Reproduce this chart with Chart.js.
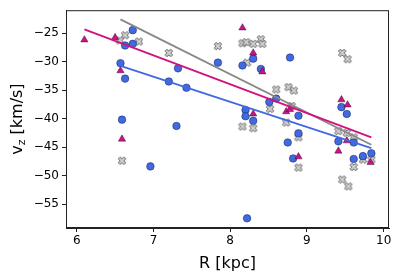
<!DOCTYPE html>
<html>
<head>
<meta charset="utf-8">
<script src="https://cdn.jsdelivr.net/npm/chart.js@4"></script>
<style>
  body { margin: 0; background: #fff; }
  canvas { display: block; }
</style>
</head>
<body>
<canvas id="vzChart" width="399" height="276"></canvas>
<script>
// Values
const blueR = [6.73, 6.63, 6.73, 6.57, 6.63, 7.20, 7.32, 7.43, 6.59, 7.30, 6.96,
               7.84, 8.16, 8.30, 8.40, 8.51, 8.60, 8.20, 8.20, 8.30, 8.78, 8.89,
               9.45, 9.52, 8.89, 8.75, 8.82, 9.41, 9.61, 9.61, 9.73, 9.84, 8.22];
const blueV = [-24.5, -27.2, -26.9, -30.3, -33.0, -33.5, -31.2, -34.6, -40.2, -41.3, -48.4,
               -30.2, -30.7, -29.5, -31.3, -37.1, -36.5, -38.5, -39.6, -40.4, -29.3, -39.5,
               -38.0, -39.2, -42.6, -44.2, -47.0, -44.0, -44.2, -47.1, -46.6, -46.1, -57.5];

const magR = [6.10, 6.50, 6.57, 6.59, 8.16, 8.30, 8.42, 8.30, 8.73, 8.78,
              9.45, 9.53, 9.52, 9.41, 8.89, 9.83];
const magV = [-26.2, -25.8, -31.6, -43.6, -24.1, -28.5, -31.8, -39.2, -38.8, -38.4,
              -36.7, -37.6, -43.9, -45.7, -46.7, -47.7];

const grayR = [6.63, 6.56, 6.81, 7.20, 7.84, 8.16, 8.21, 8.30, 8.40, 8.42, 8.22,
               8.60, 8.52, 8.76, 8.83, 9.46, 9.53, 8.80, 8.16, 8.30, 8.73, 8.89,
               8.89, 9.41, 9.52, 9.61, 9.61, 9.73, 9.84, 9.46, 9.54, 6.59];
const grayV = [-25.4, -26.3, -26.5, -28.5, -27.3, -26.8, -26.6, -26.9, -26.1, -26.9, -30.2,
               -34.9, -38.3, -34.5, -35.1, -28.5, -29.6, -37.8, -41.4, -41.7, -40.7, -43.3,
               -48.6, -42.2, -42.5, -43.3, -48.5, -47.2, -47.2, -50.7, -51.9, -47.4];

// linear fits, end points
const blueFitR = [6.57, 9.84];
const blueFitV = [-30.75, -45.2];
const magFitR = [6.10, 9.84];
const magFitV = [-24.35, -43.3];
const grayFitR = [6.57, 9.84];
const grayFitV = [-22.6, -44.6];

const xTicks = [6, 7, 8, 9, 10];
const yTicks = [-25, -30, -35, -40, -45, -50, -55];

const toPoints = (xs, ys) => xs.map((x, i) => ({ x: x, y: ys[i] }));

// filled "X" marker like matplotlib's 'X'
function makeXMarker() {
    const size = 10;
    const c = document.createElement('canvas');
    c.width = size;
    c.height = size;
    const g = c.getContext('2d');
    const a = 1.3, L = 4.0;
    const pts = [[a, a], [a, L], [-a, L], [-a, a], [-L, a], [-L, -a],
                 [-a, -a], [-a, -L], [a, -L], [a, -a], [L, -a], [L, a]];
    const cos = Math.SQRT1_2, sin = Math.SQRT1_2;
    g.beginPath();
    pts.forEach((p, i) => {
        const x = size / 2 + p[0] * cos - p[1] * sin;
        const y = size / 2 + p[0] * sin + p[1] * cos;
        if (i === 0) g.moveTo(x, y); else g.lineTo(x, y);
    });
    g.closePath();
    g.fillStyle = '#d0d0d0';
    g.fill();
    g.lineWidth = 0.8;
    g.strokeStyle = '#444';
    g.stroke();
    return c;
}

const minus = v => String(v).replace('-', '\u2212');

// frame + axis titles (v with subscript z)
const framePlugin = {
    id: 'frame',
    afterDraw(chart) {
        const { ctx, chartArea: a } = chart;
        ctx.save();
        ctx.strokeStyle = '#222';
        ctx.lineWidth = 1;
        ctx.strokeRect(a.left + 0.5, a.top + 0.5, a.right - a.left - 1, a.bottom - a.top - 1);

        ctx.fillStyle = '#000';
        ctx.textBaseline = 'alphabetic';
        ctx.font = '16px "DejaVu Sans"';
        ctx.textAlign = 'center';
        ctx.fillText('R [kpc]', (a.left + a.right) / 2, 268);

        // y title
        const big = '16px "DejaVu Sans"', small = '11px "DejaVu Sans"';
        ctx.font = big;
        const wv = ctx.measureText('v').width;
        const wr = ctx.measureText(' [km/s]').width;
        ctx.font = small;
        const wz = ctx.measureText('z').width;
        const total = wv + wz + wr;
        ctx.translate(22, (a.top + a.bottom) / 2);
        ctx.rotate(-Math.PI / 2);
        ctx.textAlign = 'left';
        let x = -total / 2;
        ctx.font = big;
        ctx.fillText('v', x, 0);
        x += wv;
        ctx.font = small;
        ctx.fillText('z', x, 3);
        x += wz;
        ctx.font = big;
        ctx.fillText(' [km/s]', x, 0);
        ctx.restore();
    }
};

const ctx = document.getElementById('vzChart').getContext('2d');
const xMarker = makeXMarker();

new Chart(ctx, {
    type: 'scatter',
    data: {
        datasets: [
            {
                type: 'line',
                data: toPoints(blueFitR, blueFitV),
                borderColor: '#4169e1',
                borderWidth: 1.8,
                pointRadius: 0,
                fill: false,
                order: 0
            },
            {
                type: 'line',
                data: toPoints(magFitR, magFitV),
                borderColor: '#d0127f',
                borderWidth: 1.8,
                pointRadius: 0,
                fill: false,
                order: 0
            },
            {
                type: 'line',
                data: toPoints(grayFitR, grayFitV),
                borderColor: '#888888',
                borderWidth: 1.8,
                pointRadius: 0,
                fill: false,
                order: 0
            },
            {
                data: toPoints(magR, magV),
                pointStyle: 'triangle',
                pointRadius: 4.2,
                backgroundColor: '#c71585',
                borderColor: 'rgba(40,0,30,0.7)',
                borderWidth: 0.6,
                order: 1
            },
            {
                data: toPoints(blueR, blueV),
                pointStyle: 'circle',
                pointRadius: 3.8,
                backgroundColor: '#4169e1',
                borderColor: 'rgba(10,20,70,0.75)',
                borderWidth: 0.6,
                order: 2
            },
            {
                data: toPoints(grayR, grayV),
                pointStyle: xMarker,
                order: 3
            }
        ]
    },
    options: {
        responsive: false,
        animation: false,
        devicePixelRatio: 1,
        layout: { padding: { top: 10, right: 10, left: 0, bottom: 0 } },
        plugins: {
            legend: { display: false },
            tooltip: { enabled: false }
        },
        scales: {
            x: {
                type: 'linear',
                min: 5.86,
                max: 10.07,
                afterBuildTicks: s => { s.ticks = xTicks.map(v => ({ value: v })); },
                afterFit: s => { s.height = 48; },
                ticks: {
                    color: '#000',
                    font: { family: 'DejaVu Sans', size: 12 },
                    padding: 2,
                    maxRotation: 0
                },
                grid: {
                    drawOnChartArea: false,
                    drawTicks: true,
                    tickLength: 4,
                    color: '#222'
                },
                border: { display: true, color: '#222' }
            },
            y: {
                type: 'linear',
                min: -59.2,
                max: -21,
                afterBuildTicks: s => { s.ticks = yTicks.map(v => ({ value: v })); },
                afterFit: s => { s.width = 66; },
                ticks: {
                    color: '#000',
                    font: { family: 'DejaVu Sans', size: 12 },
                    padding: 3,
                    callback: v => minus(v)
                },
                grid: {
                    drawOnChartArea: false,
                    drawTicks: true,
                    tickLength: 4,
                    color: '#222'
                },
                border: { display: true, color: '#222' }
            }
        }
    },
    plugins: [framePlugin]
});
</script>
</body>
</html>
